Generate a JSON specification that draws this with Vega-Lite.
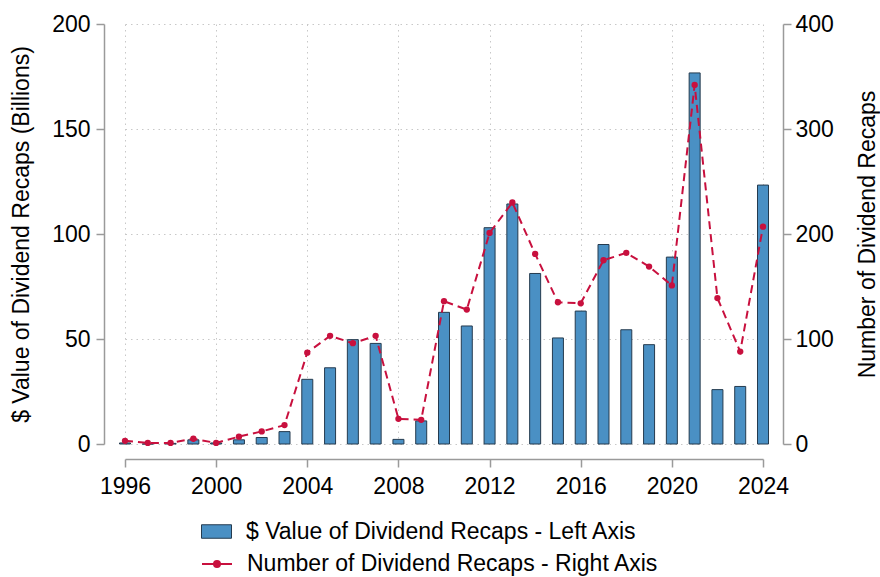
{
  "$schema": "https://vega.github.io/schema/vega-lite/v6.json",
  "width": 638,
  "height": 420,
  "autosize": {"type": "none"},
  "padding": {"left": 125, "top": 24, "right": 117, "bottom": 133},
  "background": "white",
  "config": {
    "view": {"stroke": null},
    "font": "Liberation Sans",
    "axis": {
      "labelFont": "Liberation Sans",
      "titleFont": "Liberation Sans",
      "labelFontSize": 23,
      "titleFontSize": 23,
      "titleFontWeight": "normal",
      "labelColor": "#000000",
      "titleColor": "#000000",
      "domainColor": "#9a9a9a",
      "tickColor": "#9a9a9a",
      "domainWidth": 1.5,
      "tickWidth": 1.5,
      "tickSize": 8,
      "gridColor": "#c8c8c8",
      "gridDash": [1.5, 4],
      "gridWidth": 1
    },
    "legend": {
      "labelFont": "Liberation Sans",
      "labelFontSize": 23,
      "labelColor": "#000000",
      "labelLimit": 0,
      "padding": 0
    }
  },
  "data": {
    "values": [
      {"year": 1996, "value": 0.5, "count": 3},
      {"year": 1997, "value": 0, "count": 1},
      {"year": 1998, "value": 0.3, "count": 1},
      {"year": 1999, "value": 2, "count": 5},
      {"year": 2000, "value": 0.5, "count": 1},
      {"year": 2001, "value": 2, "count": 7},
      {"year": 2002, "value": 3.1, "count": 12},
      {"year": 2003, "value": 5.9, "count": 18},
      {"year": 2004, "value": 30.8, "count": 87},
      {"year": 2005, "value": 36.3, "count": 103},
      {"year": 2006, "value": 49.7, "count": 96},
      {"year": 2007, "value": 47.9, "count": 103},
      {"year": 2008, "value": 2.2, "count": 24},
      {"year": 2009, "value": 11, "count": 23},
      {"year": 2010, "value": 62.7, "count": 136},
      {"year": 2011, "value": 56.2, "count": 128},
      {"year": 2012, "value": 103, "count": 201},
      {"year": 2013, "value": 114.3, "count": 230},
      {"year": 2014, "value": 81.2, "count": 181},
      {"year": 2015, "value": 50.5, "count": 135},
      {"year": 2016, "value": 63.3, "count": 134},
      {"year": 2017, "value": 95, "count": 175},
      {"year": 2018, "value": 54.4, "count": 182},
      {"year": 2019, "value": 47.3, "count": 169},
      {"year": 2020, "value": 89, "count": 151},
      {"year": 2021, "value": 176.7, "count": 342},
      {"year": 2022, "value": 25.9, "count": 139},
      {"year": 2023, "value": 27.4, "count": 88},
      {"year": 2024, "value": 123.3, "count": 207}
    ]
  },
  "encoding": {
    "x": {
      "field": "year",
      "type": "quantitative",
      "scale": {"domain": [1996, 2024], "nice": false, "zero": false, "padding": 0},
      "axis": {
        "title": null,
        "values": [1996, 2000, 2004, 2008, 2012, 2016, 2020, 2024],
        "format": "d",
        "offset": 15,
        "grid": true,
        "labelPadding": 8,
        "labelFlush": false
      }
    }
  },
  "layer": [
    {
      "mark": {"type": "bar", "size": 11, "stroke": "#253b4f", "strokeWidth": 1},
      "encoding": {
        "y": {
          "field": "value",
          "type": "quantitative",
          "scale": {"domain": [0, 200], "nice": false},
          "axis": {
            "title": "$ Value of Dividend Recaps (Billions)",
            "values": [0, 50, 100, 150, 200],
            "orient": "left",
            "offset": 21,
            "grid": true,
            "labelPadding": 6,
            "titlePadding": 18
          }
        },
        "fill": {
          "datum": "$ Value of Dividend Recaps - Left Axis",
          "type": "nominal",
          "scale": {"range": ["#4a90c4"]},
          "legend": {
            "title": null,
            "orient": "none",
            "legendX": 76,
            "legendY": 492,
            "symbolType": "M-1,-0.45H1V0.45H-1Z",
            "symbolSize": 900,
            "symbolStrokeColor": "#253b4f",
            "symbolStrokeWidth": 1,
            "symbolOpacity": 1,
            "labelOffset": 14
          }
        }
      }
    },
    {
      "mark": {
        "type": "line",
        "strokeWidth": 2,
        "strokeDash": [8, 5],
        "point": {"filled": true, "size": 40, "fill": "#c8103e", "stroke": "#c8103e", "strokeWidth": 0}
      },
      "encoding": {
        "y": {
          "field": "count",
          "type": "quantitative",
          "scale": {"domain": [0, 400], "nice": false},
          "axis": {
            "title": "Number of Dividend Recaps",
            "titleAngle": 270,
            "values": [0, 100, 200, 300, 400],
            "orient": "right",
            "offset": 20,
            "grid": false,
            "labelPadding": 4,
            "titlePadding": 46
          }
        },
        "stroke": {
          "datum": "Number of Dividend Recaps - Right Axis",
          "type": "nominal",
          "scale": {"range": ["#c8103e"]},
          "legend": {
            "title": null,
            "orient": "none",
            "legendX": 76,
            "legendY": 524,
            "symbolType": "M-1,0H1M-0.2,0A0.2,0.2,0,1,1,0.2,0A0.2,0.2,0,1,1,-0.2,0Z",
            "symbolSize": 900,
            "symbolFillColor": "#c8103e",
            "symbolStrokeWidth": 2,
            "symbolDash": [],
            "labelOffset": 14
          }
        }
      }
    }
  ],
  "resolve": {"scale": {"y": "independent", "fill": "independent", "stroke": "independent"}}
}
